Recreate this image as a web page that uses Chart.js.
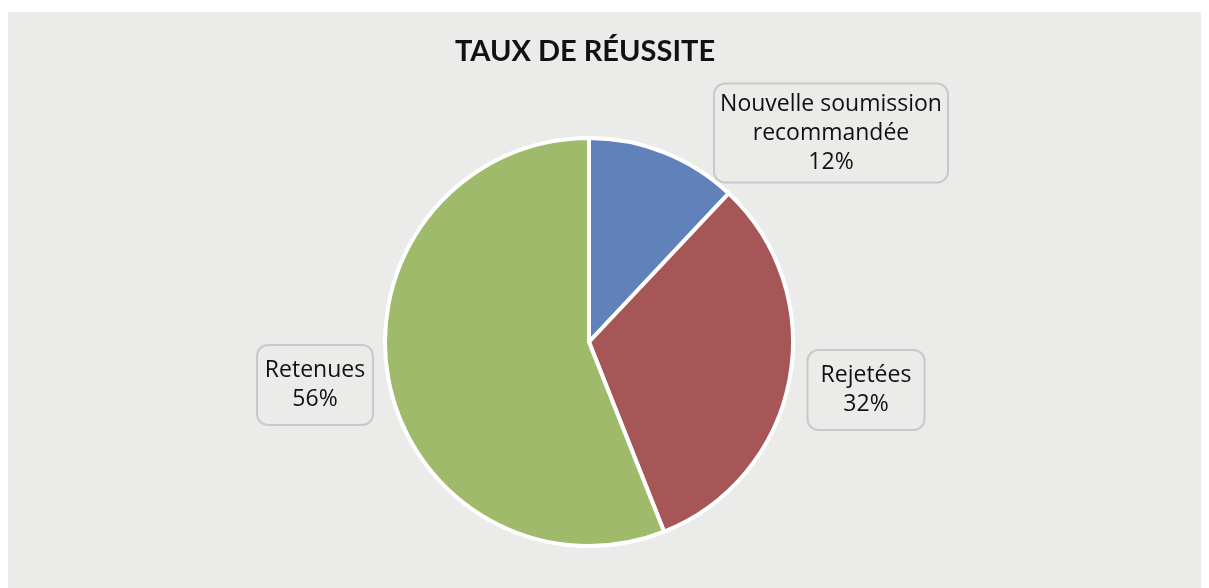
<!DOCTYPE html>
<html>
<head>
<meta charset="utf-8">
<script src="https://cdn.jsdelivr.net/npm/chart.js@4"></script>
<style>
html, body { margin: 0; padding: 0; background: #ffffff; }
#wrap { width: 1209px; height: 588px; position: relative; }
</style>
</head>
<body>
<div id="wrap"><canvas id="pie" width="1209" height="588"></canvas></div>
<script>
// data
const categories = ['Nouvelle soumission recommandée', 'Rejetées', 'Retenues'];
const labelLines = [['Nouvelle soumission', 'recommandée'], ['Rejetées'], ['Retenues']];
const values = [12, 32, 56];
const colors = ['#6181ba', '#a65656', '#9fba6a'];

// label boxes: centre and size (layout only)
const boxes = [
  { x: 831, y: 133, w: 234, h: 99 },
  { x: 866, y: 390, w: 117, h: 80 },
  { x: 315, y: 385, w: 116, h: 80 }
];

const bgPlugin = {
  id: 'bg',
  beforeDraw(chart) {
    const c = chart.ctx;
    c.save();
    c.fillStyle = '#ffffff';
    c.fillRect(0, 0, chart.width, chart.height);
    c.fillStyle = '#ebebe9';
    c.fillRect(8, 12, 1193, 576);
    c.fillStyle = '#111111';
    c.font = 'bold 29px Lato';
    c.textAlign = 'center';
    c.textBaseline = 'middle';
    c.fillText('TAUX DE RÉUSSITE', 585, 52);
    c.restore();
  }
};

const boxPlugin = {
  id: 'boxes',
  afterDatasetsDraw(chart) {
    const c = chart.ctx;
    const data = chart.data.datasets[0].data;
    const total = data.reduce((a, b) => a + b, 0);
    c.save();
    boxes.forEach((b, i) => {
      c.beginPath();
      c.roundRect(b.x - b.w / 2, b.y - b.h / 2, b.w, b.h, 11);
      c.fillStyle = '#ebebe9';
      c.fill();
      c.lineWidth = 2;
      c.strokeStyle = '#c9c9c9';
      c.stroke();
      const lines = labelLines[i].concat([Math.round(data[i] / total * 100) + '%']);
      c.fillStyle = '#111111';
      c.font = '23px "Open Sans"';
      c.textAlign = 'center';
      c.textBaseline = 'middle';
      const lh = 29;
      const y0 = b.y - (lines.length - 1) * lh / 2;
      lines.forEach((t, k) => c.fillText(t, b.x, y0 + k * lh));
    });
    c.restore();
  }
};

new Chart(document.getElementById('pie'), {
  type: 'pie',
  data: {
    labels: categories,
    datasets: [{
      data: values,
      backgroundColor: colors,
      borderColor: '#ffffff',
      borderWidth: 4
    }]
  },
  options: {
    responsive: false,
    animation: false,
    layout: { padding: { top: 136, bottom: 40, left: 289, right: 320 } },
    plugins: {
      legend: { display: false },
      tooltip: { enabled: false }
    }
  },
  plugins: [bgPlugin, boxPlugin]
});
</script>
</body>
</html>
